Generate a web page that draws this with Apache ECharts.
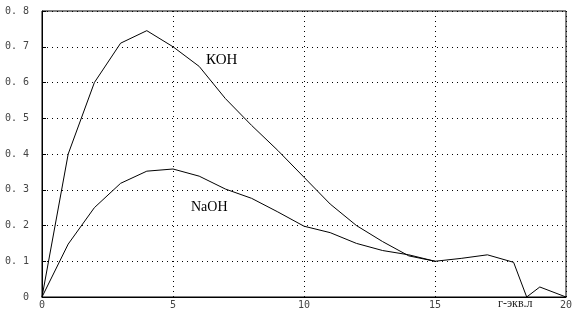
<!DOCTYPE html>
<html><head><meta charset="utf-8">
<script src="https://cdn.jsdelivr.net/npm/echarts@6/dist/echarts.min.js"></script>
<style>html,body{margin:0;padding:0;background:#fff}#c{width:583px;height:320px}</style>
</head><body><div id="c"></div>
<script>
var xKOH = [0,1,2,3,4,5,6,7,8,9,10,11,12,13,14,15,16,17,18,18.5,19,20];
var yKOH = [0,0.40,0.60,0.71,0.745,0.70,0.645,0.555,0.48,0.41,0.335,0.26,0.20,0.155,0.115,0.10,0.108,0.118,0.097,0,0.028,0];
var xNaOH = [0,1,2,3,4,5,6,7,8,9,10,11,12,13,14,15];
var yNaOH = [0,0.148,0.25,0.318,0.352,0.358,0.338,0.302,0.276,0.238,0.198,0.18,0.15,0.13,0.118,0.10];
var yTicks = ['0','0. 1','0. 2','0. 3','0. 4','0. 5','0. 6','0. 7','0. 8'];
var labelKOH = 'КОН', labelNaOH = 'NaOH', xName = 'г-экв.л';

function pairs(xs, ys){ return xs.map(function(x,i){return [x, ys[i]];}); }
var chart = echarts.init(document.getElementById('c'));
var monoFont = 'DejaVu Sans Mono';
chart.setOption({
  animation:false,
  backgroundColor:'#fff',
  grid:{left:42,top:11,width:524,height:286,show:true,borderColor:'#000',borderWidth:1},
  xAxis:{type:'value',min:0,max:20,interval:5,
    axisLine:{lineStyle:{color:'#000',width:1}},
    axisTick:{show:false},
    splitLine:{show:true,lineStyle:{color:'#000',type:[1,4],width:1}},
    axisLabel:{color:'#444',fontFamily:monoFont,fontSize:10,margin:3,
      formatter:function(v){return String(v);}}
  },
  yAxis:{type:'value',min:0,max:0.8,interval:0.1,
    axisLine:{show:true,lineStyle:{color:'#000',width:1}},
    axisTick:{show:true,inside:true,length:4,lineStyle:{color:'#000'}},
    splitLine:{show:true,lineStyle:{color:'#000',type:[1,4],width:1}},
    axisLabel:{color:'#444',fontFamily:monoFont,fontSize:10,margin:13,
      formatter:function(v){return yTicks[Math.round(v*10)];}}
  },
  graphic:[
    {type:'text',left:206,top:53,style:{text:labelKOH,font:'15px "Liberation Serif"',fill:'#000'}},
    {type:'text',left:191,top:200,style:{text:labelNaOH,font:'14px "Liberation Serif"',fill:'#000'}},
    {type:'text',left:498,top:298,style:{text:xName,font:'12px "Liberation Serif"',fill:'#222'}}
  ],
  series:[
    {type:'line',data:pairs(xKOH,yKOH),symbol:'none',lineStyle:{color:'#000',width:1}},
    {type:'line',data:pairs(xNaOH,yNaOH),symbol:'none',lineStyle:{color:'#000',width:1}}
  ]
});
</script></body></html>
